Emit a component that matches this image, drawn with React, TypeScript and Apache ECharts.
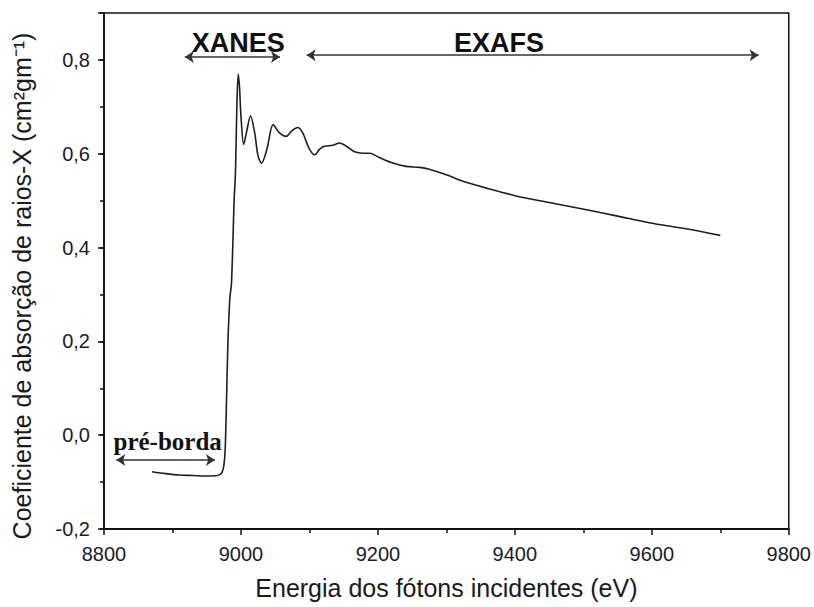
import React, { useEffect, useRef } from "react";
import * as echarts from "echarts";

const energy = [
  8870, 8890, 8910, 8930, 8950, 8966, 8972, 8975, 8977, 8979, 8981, 8983, 8984, 8986, 8988,
  8990, 8992, 8994, 8996, 8998, 9000, 9004, 9008, 9014, 9020, 9025, 9030, 9038, 9047, 9056,
  9066, 9075, 9083, 9090, 9100, 9108, 9115, 9122, 9134, 9144, 9155, 9166, 9178, 9188, 9202,
  9222, 9241, 9261, 9275, 9300, 9329, 9360, 9402, 9450, 9499, 9550, 9596, 9650, 9700,
];
const absorption = [
  -0.078, -0.082, -0.085, -0.086, -0.087, -0.086, -0.08, -0.065, -0.03, 0.08, 0.2, 0.27, 0.296,
  0.32, 0.4, 0.5, 0.56, 0.7, 0.77, 0.74, 0.68, 0.62, 0.645, 0.681, 0.645, 0.595, 0.58, 0.61,
  0.662, 0.645, 0.637, 0.65, 0.656, 0.645, 0.61, 0.598, 0.61, 0.616, 0.618, 0.623, 0.615,
  0.604, 0.601, 0.601, 0.592, 0.58, 0.573, 0.571, 0.567, 0.555, 0.539, 0.526, 0.51, 0.496,
  0.482, 0.467, 0.453, 0.44, 0.426,
];

const xTicks = { min: 8800, max: 9800, interval: 200 };
const yTicks = { min: -0.2, max: 0.9, interval: 0.2 };

// region annotations (data coordinates)
const regionNames = ["XANES", "EXAFS", "pré-borda"];
const regionLabelPos = [
  [8996, 0.836],
  [9377, 0.836],
  [8893, -0.014],
];
const regionArrows = [
  [[8918, 0.806], [9057, 0.806]],
  [[9096, 0.81], [9756, 0.81]],
  [[8818, -0.053], [8962, -0.053]],
];

const sans = "'Liberation Sans', Arial, sans-serif";
const serif = "'Liberation Serif', 'Times New Roman', serif";

export default function App() {
  const ref = useRef<HTMLDivElement>(null);
  useEffect(() => {
    if (!ref.current) return;
    const chart = echarts.init(ref.current, null, { renderer: "svg" });
    const data = energy.map((e, i) => [e, absorption[i]]);
    chart.setOption({
      animation: false,
      backgroundColor: "#ffffff",
      grid: {
        left: 104,
        right: 24,
        top: 13,
        bottom: 78,
        show: true,
        borderColor: "#111",
        borderWidth: 1.5,
        containLabel: false,
      },
      xAxis: {
        type: "value",
        min: xTicks.min,
        max: xTicks.max,
        interval: xTicks.interval,
        name: "Energia dos fótons incidentes (eV)",
        nameLocation: "middle",
        nameGap: 46,
        nameTextStyle: { fontFamily: sans, fontSize: 25, color: "#1a1a1a" },
        axisLine: { show: true, onZero: false, lineStyle: { color: "#111", width: 1.8 } },
        axisTick: { show: true, inside: false, length: 6, lineStyle: { color: "#111", width: 1.5 } },
        minorTick: { show: true, splitNumber: 2, length: 4, lineStyle: { color: "#111", width: 1.5 } },
        axisLabel: {
          fontFamily: sans,
          fontSize: 20,
          color: "#1a1a2a",
          margin: 15,
          formatter: (v: number) => String(Math.round(v)),
        },
        splitLine: { show: false },
      },
      yAxis: [
        {
          type: "value",
          min: yTicks.min,
          max: yTicks.max,
          interval: yTicks.interval,
          name: "Coeficiente de absorção de raios-X (cm²gm⁻¹)",
          nameLocation: "middle",
          nameGap: 70,
          nameRotate: 90,
          nameTextStyle: {
            fontFamily: sans,
            fontSize: 25,
            color: "#1a1a1a",
            padding: [0, 30, 0, 0],
          },
          axisLine: { show: true, onZero: false, lineStyle: { color: "#111", width: 1.8 } },
          axisTick: { show: true, inside: false, length: 6, lineStyle: { color: "#111", width: 1.5 } },
          axisLabel: {
            fontFamily: sans,
            fontSize: 20,
            color: "#1a1a2a",
            margin: 14,
            formatter: (v: number) => {
              const r = Math.round(v * 10) / 10;
              if (Math.abs(Math.round(r * 5) - r * 5) > 1e-6) return "";
              if (r > 0.85) return "";
              return r.toFixed(1).replace(".", ",");
            },
          },
          splitLine: { show: false },
        },
        {
          type: "value",
          min: yTicks.min,
          max: yTicks.max,
          interval: yTicks.interval / 2,
          position: "left",
          axisLine: { show: false },
          axisTick: { show: true, inside: false, length: 4, lineStyle: { color: "#111", width: 1.5 } },
          axisLabel: { show: false },
          splitLine: { show: false },
        },
      ],
      series: [
        {
          type: "line",
          data,
          showSymbol: false,
          smooth: 0.3,
          lineStyle: { color: "#1e1e1e", width: 1.6 },
          markLine: {
            silent: true,
            symbol: ["arrow", "arrow"],
            symbolSize: 9,
            lineStyle: { color: "#333", width: 1.6, type: "solid" },
            label: { show: false },
            data: regionArrows.map((a) => [{ coord: a[0] }, { coord: a[1] }]),
          },
          markPoint: {
            silent: true,
            symbol: "circle",
            symbolSize: 1,
            itemStyle: { color: "rgba(0,0,0,0)" },
            data: regionNames.map((n, i) => ({
              name: n,
              coord: regionLabelPos[i],
              label: {
                show: true,
                position: "inside",
                formatter: n,
                fontFamily: i === 2 ? serif : sans,
                fontWeight: "bold",
                fontSize: i === 2 ? 25 : 27,
                color: "#111",
              },
            })),
          },
        },
      ],
    });
    return () => chart.dispose();
  }, []);
  return (
    <div
      ref={ref}
      style={{ position: "fixed", left: 0, top: 0, width: 814, height: 607, overflow: "hidden" }}
    />
  );
}
